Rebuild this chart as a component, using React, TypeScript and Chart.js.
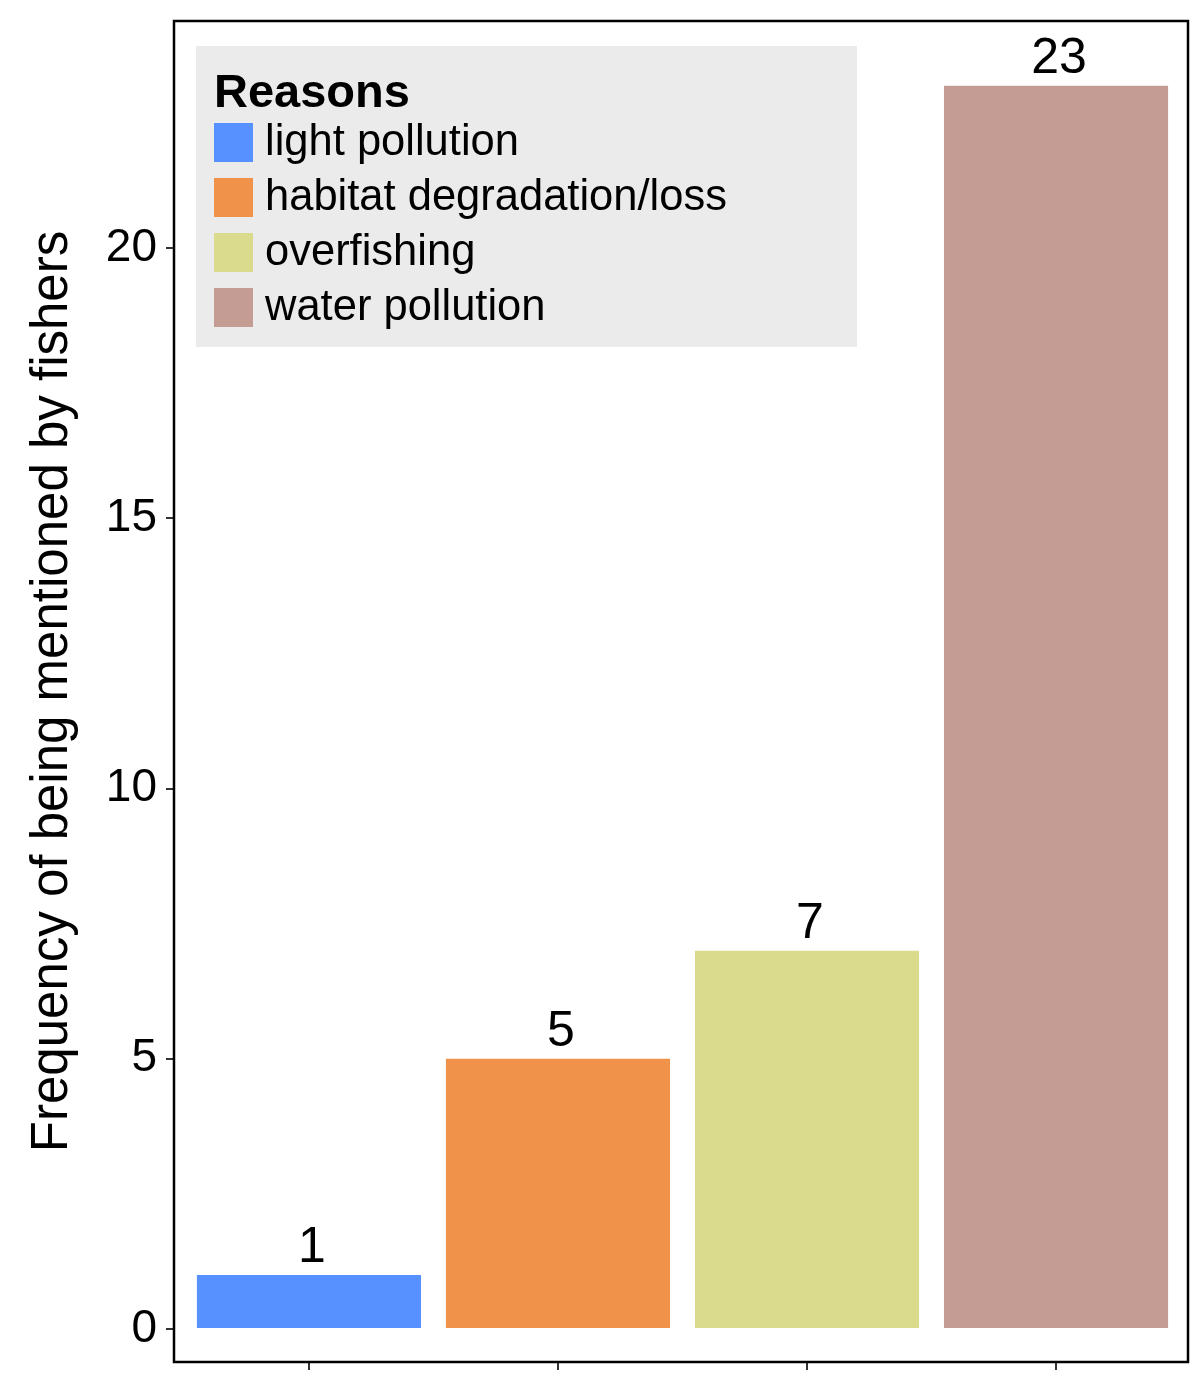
import React, { useEffect, useRef } from "react";
import { Chart, registerables } from "chart.js";

Chart.register(...registerables);

const categories = ["light pollution", "habitat degradation/loss", "overfishing", "water pollution"];
const values = [1, 5, 7, 23];
const colors = ["#5790FF", "#F09249", "#DBDB8D", "#C49C94"];
const yTickValues = [0, 5, 10, 15, 20];
const legendTitle = "Reasons";
const yTitle = "Frequency of being mentioned by fishers";

const FONT = "'Liberation Sans', Arial, Helvetica, sans-serif";

const panelPlugin = {
  id: "panelBorder",
  afterDraw(chart: any) {
    const { ctx, chartArea: a } = chart;
    ctx.save();
    ctx.strokeStyle = "#000000";
    ctx.lineWidth = 2.5;
    ctx.strokeRect(a.left, a.top, a.right - a.left, a.bottom - a.top);
    ctx.restore();
  },
};

const valueLabelPlugin = {
  id: "valueLabels",
  afterDatasetsDraw(chart: any) {
    const { ctx } = chart;
    const meta = chart.getDatasetMeta(0);
    ctx.save();
    ctx.fillStyle = "#000000";
    ctx.font = `50px ${FONT}`;
    ctx.textAlign = "center";
    ctx.textBaseline = "alphabetic";
    meta.data.forEach((bar: any, i: number) => {
      ctx.fillText(String(values[i]), bar.x + 3, bar.y - 13);
    });
    ctx.restore();
  },
};

const legendPlugin = {
  id: "customLegend",
  afterDraw(chart: any) {
    const { ctx, chartArea: a } = chart;
    const left = a.left + 22;
    const top = a.top + 25;
    ctx.save();
    ctx.fillStyle = "#EBEBEB";
    ctx.fillRect(left, top, 661, 301);
    ctx.fillStyle = "#000000";
    ctx.font = `bold 47px ${FONT}`;
    ctx.textAlign = "left";
    ctx.textBaseline = "alphabetic";
    ctx.fillText(legendTitle, left + 18, top + 61);
    categories.forEach((c, i) => {
      const y = top + 77 + i * 55;
      ctx.fillStyle = colors[i];
      ctx.fillRect(left + 18, y, 39, 39);
      ctx.fillStyle = "#000000";
      ctx.font = `43.5px ${FONT}`;
      ctx.textBaseline = "middle";
      ctx.fillText(c, left + 69, y + 20);
    });
    ctx.restore();
  },
};

export default function App() {
  const ref = useRef<HTMLCanvasElement>(null);
  useEffect(() => {
    document.body.style.margin = "0";
    Chart.defaults.font.family = FONT;
    const chart = new Chart(ref.current as HTMLCanvasElement, {
      type: "bar",
      data: {
        datasets: [
          {
            data: categories.map((c, i) => ({ x: i, y: values[i] })) as any,
            backgroundColor: colors,
            borderWidth: 0,
            barPercentage: 0.9,
            categoryPercentage: 1.0,
          },
        ],
      },
      options: {
        animation: false,
        responsive: false,
        devicePixelRatio: 1,
        layout: { padding: { left: 0, top: 21, right: 12, bottom: 0 } },
        plugins: { legend: { display: false }, tooltip: { enabled: false } },
        scales: {
          x: {
            type: "linear",
            min: -0.542,
            max: 3.53,
            offset: false,
            afterBuildTicks: (s: any) => {
              s.ticks = categories.map((c, i) => ({ value: i }));
            },
            afterFit: (s: any) => {
              s.height = 17;
              s.paddingLeft = 0;
              s.paddingRight = 0;
              s.paddingTop = 0;
              s.paddingBottom = 0;
            },
            ticks: { display: true, callback: () => "" },
            grid: {
              display: true,
              offset: false,
              drawOnChartArea: false,
              drawTicks: true,
              tickLength: 8,
              tickColor: "#333333",
              lineWidth: 2,
            },
            border: { display: false },
          },
          y: {
            type: "linear",
            min: -0.61,
            max: 24.2,
            afterBuildTicks: (s: any) => {
              s.ticks = yTickValues.map((v) => ({ value: v }));
            },
            afterFit: (s: any) => {
              s.width = 174;
              s.paddingTop = 0;
              s.paddingBottom = 0;
              s.paddingLeft = 0;
              s.paddingRight = 0;
            },
            ticks: {
              color: "#000000",
              font: { size: 46, family: FONT },
              padding: 9,
            },
            grid: {
              display: true,
              drawOnChartArea: false,
              drawTicks: true,
              tickLength: 8,
              tickColor: "#333333",
              lineWidth: 2,
            },
            border: { display: false },
            title: {
              display: true,
              text: yTitle,
              color: "#000000",
              font: { size: 51, family: FONT },
              padding: { top: 22, bottom: 0 },
            },
          },
        },
      },
      plugins: [panelPlugin, valueLabelPlugin, legendPlugin],
    });
    return () => chart.destroy();
  }, []);
  return (
    <div style={{ width: 1200, height: 1379, position: "relative" }}>
      <canvas ref={ref} width={1200} height={1379} style={{ display: "block", width: 1200, height: 1379 }} />
    </div>
  );
}
